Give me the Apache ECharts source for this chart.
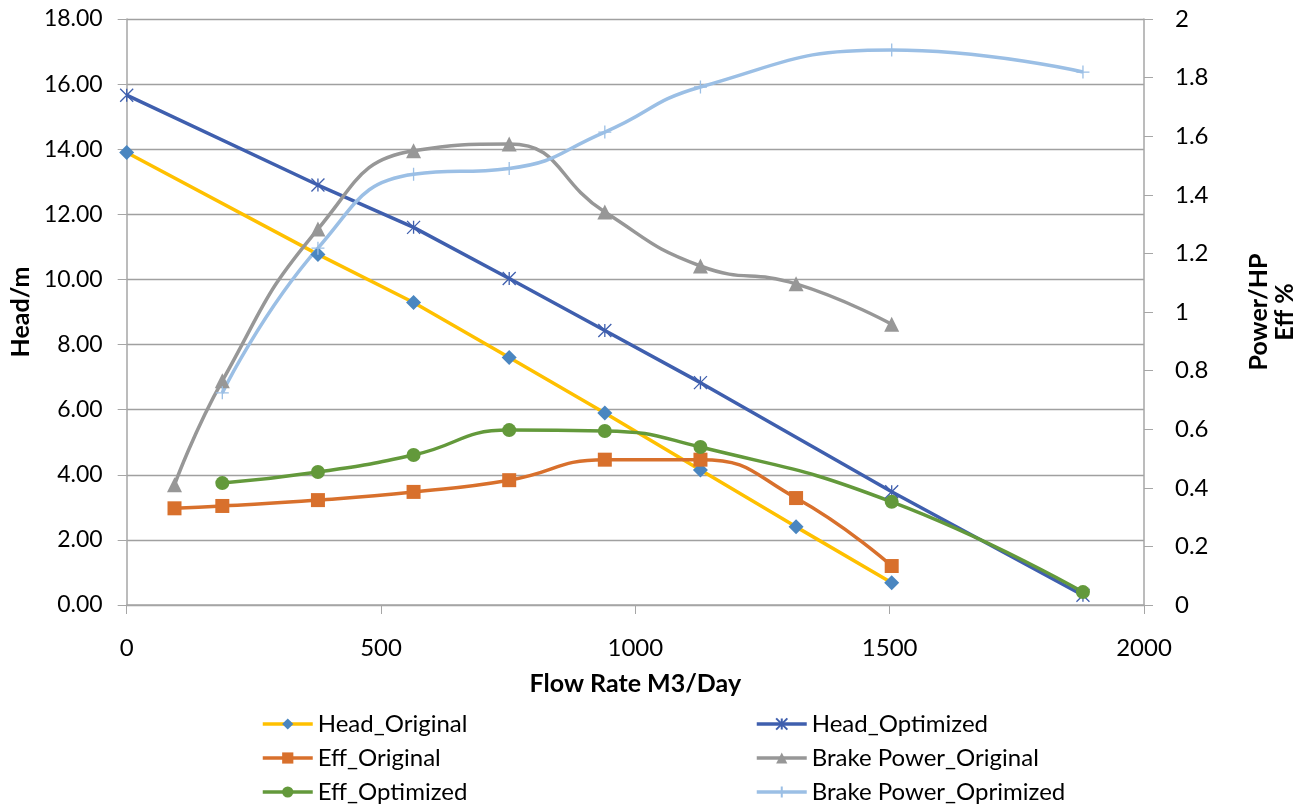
<!DOCTYPE html>
<html>
<head>
<meta charset="utf-8">
<script src="https://cdn.jsdelivr.net/npm/echarts@6/dist/echarts.min.js"></script>
<style>
  html, body { margin: 0; padding: 0; background: #fff; }
  #chart { width: 1306px; height: 812px; }
</style>
</head>
<body>
<div id="chart"></div>
<script>
// flow rate (M3/Day) shared by all series, null = no point for that series
const flow = [0, 94, 188, 376, 564, 752, 940, 1128, 1316, 1504, 1880]
const headOriginal = [13.9, null, null, 10.77, 9.29, 7.6, 5.9, 4.15, 2.4, 0.68, null]
const headOptimized = [15.66, null, null, 12.9, 11.6, 10.03, 8.43, 6.83, null, 3.48, 0.3]
const effOriginal = [null, 0.33, 0.338, 0.358, 0.386, 0.426, 0.496, 0.496, 0.365, 0.133, null]
const effOptimized = [null, null, 0.416, 0.454, 0.512, 0.597, 0.594, 0.539, null, 0.352, 0.044]
const bpOriginal = [null, 0.41, 0.765, 1.283, 1.55, 1.573, 1.341, 1.157, 1.096, 0.958, null]
const bpOptimized = [null, null, 0.724, 1.218, 1.47, 1.49, 1.614, 1.768, null, 1.894, 1.819]

const FONT = 'Lato'
const AXIS_COLOR = '#a6a6a6'

function pairs (vals) {
  let out = []
  for (let i = 0; i < flow.length; i++) {
    if (vals[i] !== null) out.push([flow[i], vals[i]])
  }
  return out
}

const starPath = 'path://M0,0 L10,10 M10,0 L0,10 M5,0 L5,10'
const plusPath = 'path://M5,0 L5,10 M0,5 L10,5'

function makeSeries (name, vals, axis, lineColor, symbol, itemStyle, size, smooth) {
  return {
    name: name,
    type: 'line',
    yAxisIndex: axis,
    data: pairs(vals),
    smooth: smooth,
    symbol: symbol,
    symbolSize: size,
    showAllSymbol: true,
    lineStyle: { color: lineColor, width: 3.5 },
    itemStyle: itemStyle,
    z: 2
  }
}

let series = [
  makeSeries('Head_Original', headOriginal, 0, '#FFC000', 'diamond', { color: '#4A86C0' }, 15, false),
  makeSeries('Head_Optimized', headOptimized, 0, '#3F5FAE', starPath,
    { color: 'transparent', borderColor: '#3F5FAE', borderWidth: 1.3 }, 13, false),
  makeSeries('Eff_Original', effOriginal, 1, '#D8702C', 'rect', { color: '#D8702C' }, 14, 0.5),
  makeSeries('Brake Power_Original', bpOriginal, 1, '#979797', 'triangle', { color: '#979797' }, 15, 0.5),
  makeSeries('Eff_Optimized', effOptimized, 1, '#63993B', 'circle', { color: '#63993B' }, 14, 0.5),
  makeSeries('Brake Power_Oprimized', bpOptimized, 1, '#9BBFE5', plusPath,
    { color: 'transparent', borderColor: '#9BBFE5', borderWidth: 1.3 }, 13, 0.5)
]

let legendBase = {
  orient: 'vertical',
  top: 707,
  itemWidth: 50,
  itemHeight: 14,
  itemGap: 10,
  lineStyle: { width: 3.5 },
  textStyle: { fontFamily: FONT, fontSize: 24, color: '#000' },
  selectedMode: false
}

let option = {
  animation: false,
  backgroundColor: '#fff',
  grid: { left: 124, right: 158, top: 19, bottom: 207 },
  legend: [
    Object.assign({}, legendBase, { left: 256, data: ['Head_Original', 'Eff_Original', 'Eff_Optimized'] }),
    Object.assign({}, legendBase, { left: 750, data: ['Head_Optimized', 'Brake Power_Original', 'Brake Power_Oprimized'] })
  ],
  xAxis: {
    type: 'value',
    min: 0,
    max: 2000,
    interval: 500,
    name: 'Flow Rate M3/Day',
    nameLocation: 'middle',
    nameGap: 66,
    nameTextStyle: { fontFamily: FONT, fontSize: 25, fontWeight: 'bold', color: '#000' },
    axisLine: { lineStyle: { color: AXIS_COLOR, width: 1.5 } },
    axisTick: { show: true, length: 9, lineStyle: { color: AXIS_COLOR } },
    axisLabel: { fontFamily: FONT, fontSize: 24, color: '#000', margin: 31, formatter: v => String(v) },
    splitLine: { show: false }
  },
  yAxis: [
    {
      type: 'value',
      min: 0,
      max: 18,
      interval: 2,
      name: 'Head/m',
      nameLocation: 'middle',
      nameGap: 92,
      nameTextStyle: { fontFamily: FONT, fontSize: 25, fontWeight: 'bold', color: '#000' },
      axisLine: { show: true, lineStyle: { color: AXIS_COLOR, width: 1.5 } },
      axisTick: { show: true, length: 9, lineStyle: { color: AXIS_COLOR } },
      axisLabel: {
        fontFamily: FONT, fontSize: 23, color: '#000', margin: 24,
        formatter: v => v.toFixed(2)
      },
      splitLine: { show: true, lineStyle: { color: '#a0a0a0', width: 1.3 } }
    },
    {
      type: 'value',
      min: 0,
      max: 2,
      interval: 0.2,
      position: 'right',
      name: 'Power/HP\nEff %',
      nameLocation: 'middle',
      nameGap: 102,
      nameTextStyle: { fontFamily: FONT, fontSize: 25, fontWeight: 'bold', color: '#000', lineHeight: 26 },
      axisLine: { show: true, lineStyle: { color: AXIS_COLOR, width: 1.5 } },
      axisTick: { show: true, length: 9, lineStyle: { color: AXIS_COLOR } },
      axisLabel: { fontFamily: FONT, fontSize: 24, color: '#000', margin: 31 },
      splitLine: { show: false }
    }
  ],
  series: series
}

let myChart = echarts.init(document.getElementById('chart'))
myChart.setOption(option)
</script>
</body>
</html>
